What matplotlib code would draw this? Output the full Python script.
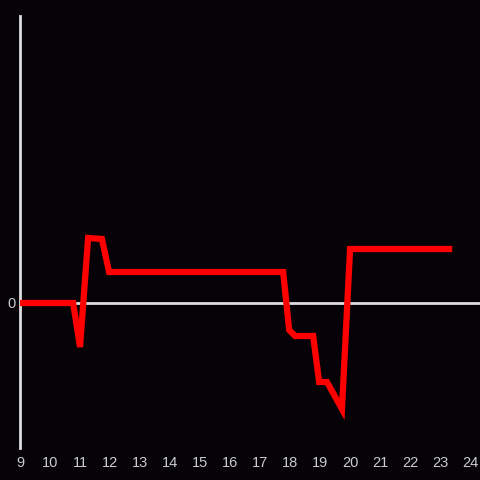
import matplotlib
matplotlib.use('Agg')
import matplotlib.pyplot as plt

# hour of day and value
hours = [9.0, 10.77, 11.0, 11.27, 11.73, 11.97, 17.77, 17.97, 18.17, 18.77, 18.97, 19.23, 19.73, 20.0, 23.3]
values = [0, 0, -44, 65, 64, 31, 31, -27, -33, -33, -79, -79, -106, 54, 54]
xticks = list(range(9, 25))

bg = '#050307'
fig = plt.figure(figsize=(4.8, 4.8), dpi=100, facecolor=bg)
ax = fig.add_axes([20 / 480, 32 / 480, 460 / 480, 432 / 480], facecolor=bg)

ax.plot(hours, values, color='#ff0000', lw=4.5, solid_joinstyle='miter', zorder=3)
ax.axhline(0, color='#dddddd', lw=2, zorder=2)

ax.set_xlim(9, 24.33)
ax.set_ylim(-145, 287)

for s in ['top', 'right', 'bottom']:
    ax.spines[s].set_visible(False)
ax.spines['left'].set_color('#dddddd')
ax.spines['left'].set_linewidth(2)

ax.set_xticks(xticks)
ax.set_xticklabels([str(t) for t in xticks])
ax.set_yticks([0])
ax.set_yticklabels(['0'])
ax.tick_params(axis='both', length=0, colors='#cccccc', labelsize=10.5)
ax.tick_params(axis='x', pad=6)
ax.tick_params(axis='y', pad=3)
for lab in ax.get_xticklabels() + ax.get_yticklabels():
    lab.set_fontfamily('Liberation Sans')

fig.savefig('out.png', dpi=100, facecolor=bg)
